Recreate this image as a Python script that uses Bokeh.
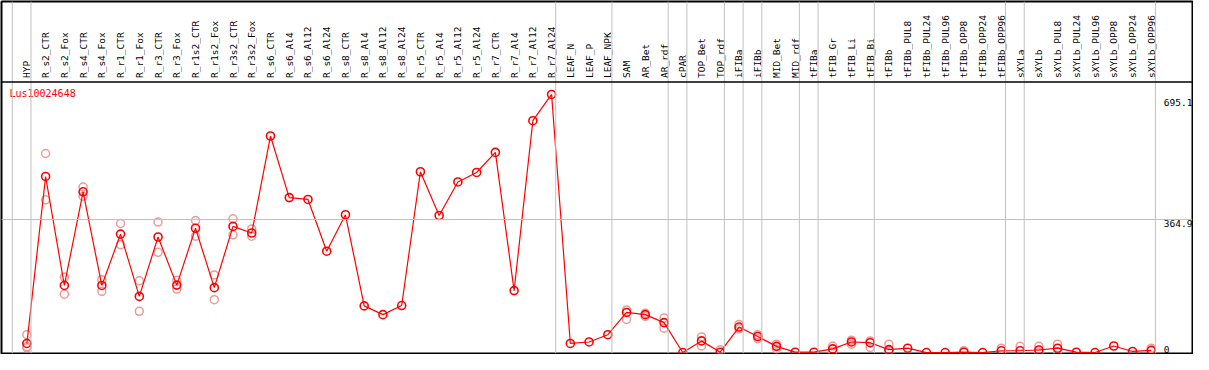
import numpy as np
from bokeh.plotting import figure
from bokeh.models import Range1d, Span
from bokeh.core.properties import value
from bokeh.embed import file_html
from bokeh.resources import INLINE

nan = float("nan")

gene = "Lus10024648"

categories = [
    "HYP", "R_s2_CTR", "R_s2_Fox", "R_s4_CTR", "R_s4_Fox", "R_r1_CTR", "R_r1_Fox",
    "R_r3_CTR", "R_r3_Fox", "R_r1s2_CTR", "R_r1s2_Fox", "R_r3s2_CTR", "R_r3s2_Fox",
    "R_s6_CTR", "R_s6_Al4", "R_s6_Al12", "R_s6_Al24", "R_s8_CTR", "R_s8_Al4",
    "R_s8_Al12", "R_s8_Al24", "R_r5_CTR", "R_r5_Al4", "R_r5_Al12", "R_r5_Al24",
    "R_r7_CTR", "R_r7_Al4", "R_r7_Al12", "R_r7_Al24", "LEAF_N", "LEAF_P", "LEAF_NPK",
    "SAM", "AR_Bet", "AR_rdf", "cPAR", "TOP_Bet", "TOP_rdf", "iFIBa", "iFIBb",
    "MID_Bet", "MID_rdf", "tFIBa", "tFIB_Gr", "tFIB_Li", "tFIB_Bi", "tFIBb",
    "tFIBb_PUL8", "tFIBb_PUL24", "tFIBb_PUL96", "tFIBb_OPP8", "tFIBb_OPP24",
    "tFIBb_OPP96", "sXYLa", "sXYLb", "sXYLb_PUL8", "sXYLb_PUL24", "sXYLb_PUL96",
    "sXYLb_OPP8", "sXYLb_OPP24", "sXYLb_OPP96",
]

mean_vals = [
    25, 483, 184, 441, 184, 325, 154, 317, 185, 341, 178, 346, 328,
    594, 425, 420, 278, 378, 128, 104, 129, 496, 376, 468, 494, 549, 170, 636, 708,
    25, 29, 49, 110, 104, 82, 0, 32, 1, 70, 44, 17, 1,
    1, 10, 29, 27, 8, 12, 0, 0, 1, 0, 5,
    5, 7, 12, 1, 0, 18, 3, 6,
]

rep_a = [
    49, 546, 207, 454, 200, 354, 197, 358, 198, 362, 213, 367, 339,
    nan, nan, nan, nan, nan, nan, nan, nan, nan, nan, nan, nan, nan, nan, nan, nan,
    nan, nan, nan, 117, 108, 95, nan, 43, 8, 77, 49, 23, nan,
    nan, 18, 34, 32, 23, nan, nan, nan, 5, nan, 12,
    17, 17, 23, nan, nan, nan, nan, 12,
]

rep_b = [
    16, 419, 160, 429, 168, 296, 113, 275, 174, 319, 145, 323, 319,
    nan, nan, nan, nan, nan, nan, nan, nan, nan, nan, nan, nan, nan, nan, nan, nan,
    nan, nan, nan, 91, 99, 67, nan, 18, nan, 65, 38, 10, nan,
    nan, 3, 23, 14, 5, nan, nan, nan, nan, nan, nan,
    nan, 1, 3, nan, nan, nan, nan, nan,
]

rep_c = [13] + [nan] * 60

y_ticks = [0, 364.9, 695.1]
y_tick_labels = ["0", "364.9", "695.1"]

group_ends = ["HYP", "R_r7_Al24", "LEAF_NPK", "AR_rdf", "cPAR", "TOP_rdf", "iFIBa",
              "iFIBb", "MID_rdf", "tFIBa", "tFIB_Bi", "tFIBb_OPP96", "sXYLa", "sXYLb_OPP96"]

n = len(categories)
x = np.arange(n)

p = figure(width=1193, height=354, output_backend="svg", toolbar_location=None,
           x_range=Range1d(-1.354, 62.2), y_range=Range1d(-2.6, 963),
           x_axis_type=None, y_axis_type=None, min_border=1)
p.grid.visible = False
p.outline_line_color = "black"
p.outline_line_width = 2
p.background_fill_color = "white"
p.border_fill_color = "white"

grey = "#C0C0C0"
sep_off = 0.22
p.add_layout(Span(location=-1 + sep_off, dimension="height", line_color=grey, line_width=1))
for g in group_ends:
    p.add_layout(Span(location=categories.index(g) + sep_off, dimension="height",
                      line_color=grey, line_width=1))
p.add_layout(Span(location=y_ticks[1], dimension="width", line_color=grey, line_width=1))
p.add_layout(Span(location=742, dimension="width", line_color="black", line_width=1.5))

mono = value("DejaVu Sans Mono")

# header labels
p.text(x=x, y=[753] * n, text=categories, angle=np.pi / 2, text_align="left",
       text_baseline="middle", text_font=mono, text_font_size="9.5px", text_color="black")

# gene title
p.text(x=[-0.93], y=[711], text=[gene], text_align="left", text_baseline="middle",
       text_font=mono, text_font_size="10px", text_color="red")

# y labels
p.text(x=[60.67, 60.67], y=y_ticks[1:], text=y_tick_labels[1:], text_align="left",
       text_baseline="top", text_font=mono, text_font_size="9.5px", text_color="black")
p.text(x=[60.67], y=y_ticks[:1], text=y_tick_labels[:1], text_align="left",
       text_baseline="bottom", text_font=mono, text_font_size="9.5px", text_color="black")

light = "#EC9A9A"
for reps in (rep_a, rep_b, rep_c):
    p.scatter(x, reps, marker="circle", size=8, fill_alpha=0, line_color=light, line_width=1.5)

p.line(x, mean_vals, line_color="red", line_width=1.2)
p.scatter(x, mean_vals, marker="circle", size=8, fill_alpha=0, line_color="red", line_width=1.6)

open("out.html", "w").write(file_html(p, INLINE))
